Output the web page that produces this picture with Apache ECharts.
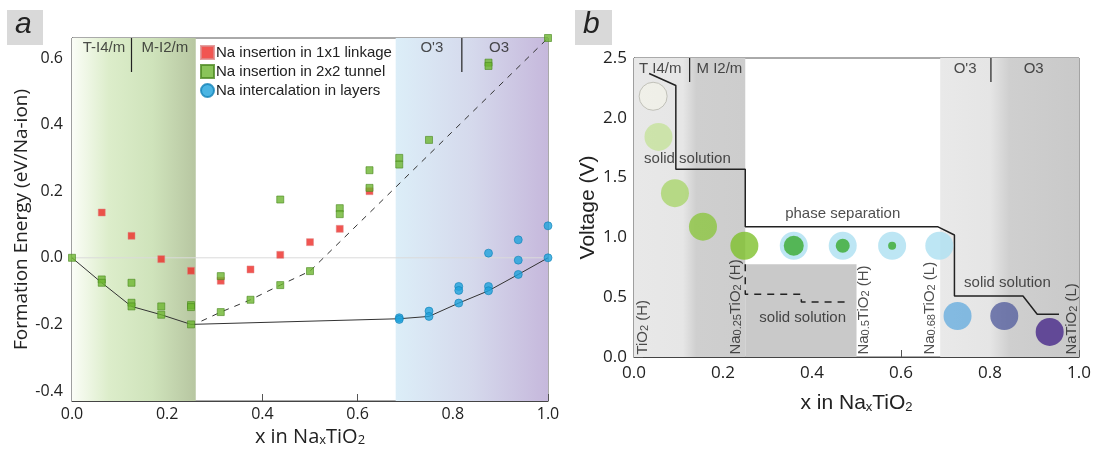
<!DOCTYPE html>
<html>
<head>
<meta charset="utf-8">
<script src="https://cdn.jsdelivr.net/npm/echarts@6/dist/echarts.min.js"></script>
<style>
html,body{margin:0;padding:0;background:#fff;}
#chart{width:1094px;height:453px;}
</style>
</head>
<body>
<div id="chart"></div>
<script>
// ---------- panel a : formation energy ----------
let linkX = [0.0625, 0.125, 0.1875, 0.25, 0.3125, 0.375, 0.4375, 0.5, 0.5625, 0.625];
let linkE = [0.136, 0.066, -0.004, -0.039, -0.069, -0.035, 0.009, 0.047, 0.087, 0.2];

let tunnelX = [0, 0.0625, 0.0625, 0.125, 0.125, 0.125, 0.1875, 0.1875, 0.25, 0.25, 0.25,
  0.3125, 0.3125, 0.375, 0.4375, 0.4375, 0.5, 0.5625, 0.5625, 0.625, 0.625, 0.6875, 0.6875,
  0.75, 0.875, 0.875, 1.0];
let tunnelE = [0, -0.065, -0.075, -0.075, -0.135, -0.146, -0.146, -0.171, -0.142, -0.148, -0.2,
  -0.055, -0.163, -0.126, 0.175, -0.082, -0.04, 0.149, 0.131, 0.263, 0.21, 0.3, 0.28,
  0.354, 0.586, 0.576, 0.66];

let layerX = [0.6875, 0.6875, 0.75, 0.75, 0.8125, 0.8125, 0.8125, 0.875, 0.875, 0.875,
  0.9375, 0.9375, 0.9375, 1.0, 1.0];
let layerE = [-0.18, -0.185, -0.16, -0.176, -0.086, -0.098, -0.136, 0.014, -0.086, -0.099,
  0.054, -0.007, -0.05, 0.096, 0.0];

let hullX = [0, 0.0625, 0.125, 0.1875, 0.25, 0.6875, 0.75, 0.8125, 0.875, 0.9375, 1.0];
let hullE = [0, -0.075, -0.146, -0.171, -0.2, -0.183, -0.176, -0.136, -0.099, -0.05, 0];

let dashX = [0.272, 0.3125, 0.375, 0.4375, 0.5, 1.0];
let dashE = [-0.19, -0.163, -0.126, -0.082, -0.04, 0.66];

let yTicksA = [-0.4, -0.2, 0, 0.2, 0.4, 0.6];
let phaseA = ['T-I4/m', 'M-I2/m', "O'3", 'O3'];
let phaseAX = [0.067, 0.195, 0.756, 0.897];
let splitAX = [0.125, 0.819];
let bandA = [0, 0.26, 0.68, 1.0];

// ---------- panel b : voltage ----------
let voltX = [0.034, 0.094, 0.094, 0.25, 0.25, 0.682, 0.72, 0.72, 0.874, 0.906, 0.955];
let voltV = [2.37, 2.27, 1.57, 1.57, 1.09, 1.09, 1.02, 0.51, 0.51, 0.357, 0.357];
let voltDashX = [0.25, 0.25, 0.376, 0.376, 0.477];
let voltDashV = [0.775, 0.524, 0.524, 0.46, 0.46];

let dotX = [0.043, 0.055, 0.092, 0.155, 0.248, 0.359, 0.469, 0.58, 0.686, 0.727, 0.832, 0.934];
let dotV = [2.18, 1.84, 1.37, 1.09, 0.93, 0.93, 0.93, 0.93, 0.93, 0.343, 0.343, 0.21];
let coreX = [0.359, 0.469, 0.58];
let coreV = [0.93, 0.93, 0.93];

let phaseB = ['T I4/m', 'M I2/m', "O'3", 'O3'];
let phaseBX = [0.059, 0.192, 0.744, 0.898];
let splitBX = [0.125, 0.802];

let notesB = ['solid solution', 'phase separation', 'solid solution', 'solid solution'];
let notesBX = [0.12, 0.469, 0.379, 0.839];
let notesBV = [1.655, 1.196, 0.328, 0.62];

let compB = ['TiO{s|2} (H)', 'Na{s|0.25}TiO{s|2} (H)', 'Na{s|0.5}TiO{s|2} (H)', 'Na{s|0.68}TiO{s|2} (L)', 'NaTiO{s|2} (L)'];
let compBX = [0.021, 0.228, 0.516, 0.664, 0.983];

// styles
let dotColors = ['#f1f1e8', '#c5e29b', '#aad66d', '#8cc540', '#7ec12c', '#ade0f1', '#ade0f1',
  '#ade0f1', '#ade0f1', '#69aede', '#56609f', '#47288a'];
let coreSizes = [20, 14, 8];

const TXT = '#222';
const SANS = 'Liberation Sans';
const OPEN = 'Open Sans';
const subRich = {s: {fontSize: 11, fontFamily: SANS, color: TXT, verticalAlign: 'bottom', lineHeight: 14}};

function pairs(xs, ys) { return xs.map((x, i) => [x, ys[i]]); }

function textSeries(gi, pts, texts, label) {
  return {
    type: 'scatter', xAxisIndex: gi, yAxisIndex: gi, silent: true, symbolSize: 0, z: 6,
    itemStyle: {color: 'transparent'},
    data: pts.map((p, i) => ({value: p, name: texts[i]})),
    label: Object.assign({show: true, position: 'inside', formatter: '{b}',
      color: TXT, fontFamily: SANS, fontSize: 15, rich: subRich}, label)
  };
}

function vline(gi, x, y0, y1) {
  return {type: 'line', xAxisIndex: gi, yAxisIndex: gi, silent: true, symbol: 'none', z: 5,
    lineStyle: {color: '#222', width: 1.2}, data: [[x, y0], [x, y1]]};
}

let chart = echarts.init(document.getElementById('chart'), null, {renderer: 'canvas'});

let series = [
  // bands panel a
  {type: 'line', xAxisIndex: 0, yAxisIndex: 0, data: [], silent: true, z: 0,
    markArea: {silent: true, data: [
      [{xAxis: bandA[0], itemStyle: {color: {type: 'linear', x: 0, y: 0, x2: 1, y2: 0, colorStops: [
        {offset: 0, color: '#fbfdf7'}, {offset: 0.3, color: '#dcedca'}, {offset: 0.65, color: '#cfe3bb'}, {offset: 1, color: '#b7c6a1'}]}}},
       {xAxis: bandA[1]}],
      [{xAxis: bandA[2], itemStyle: {color: {type: 'linear', x: 0, y: 0, x2: 1, y2: 0, colorStops: [
        {offset: 0, color: '#dceef8'}, {offset: 0.5, color: '#d5d9ec'}, {offset: 1, color: '#c6b8dc'}]}}},
       {xAxis: bandA[3]}]
    ]}},
  {type: 'line', xAxisIndex: 0, yAxisIndex: 0, silent: true, symbol: 'none', z: 1,
    lineStyle: {color: '#dadada', width: 1}, data: [[0, 0], [1, 0]]},
  {name: 'hull', type: 'line', xAxisIndex: 0, yAxisIndex: 0, silent: true, symbol: 'none', z: 2,
    lineStyle: {color: '#333', width: 1}, data: pairs(hullX, hullE)},
  {name: 'dash', type: 'line', xAxisIndex: 0, yAxisIndex: 0, silent: true, symbol: 'none', z: 2,
    lineStyle: {color: '#333', width: 1, type: [6, 6]}, data: pairs(dashX, dashE)},
  {name: 'Na insertion in 1x1 linkage', type: 'scatter', xAxisIndex: 0, yAxisIndex: 0, symbol: 'rect',
    symbolSize: 7, z: 3, itemStyle: {color: '#ee2b25', borderColor: '#d88', borderWidth: 0.6}, data: pairs(linkX, linkE)},
  {name: 'Na insertion in 2x2 tunnel', type: 'scatter', xAxisIndex: 0, yAxisIndex: 0, symbol: 'rect',
    symbolSize: 7, z: 4, itemStyle: {color: '#6db52f', borderColor: '#4d8a22', borderWidth: 0.8}, data: pairs(tunnelX, tunnelE)},
  {name: 'Na intercalation in layers', type: 'scatter', xAxisIndex: 0, yAxisIndex: 0, symbol: 'circle',
    symbolSize: 8, z: 4, itemStyle: {color: '#1ea2dc', borderColor: '#1282b8', borderWidth: 0.8}, data: pairs(layerX, layerE)},
  textSeries(0, phaseAX.map(x => [x, 0.63]), phaseA, {}),
  vline(0, splitAX[0], 0.66, 0.558),
  vline(0, splitAX[1], 0.66, 0.558),

  // panel b
  {type: 'line', xAxisIndex: 1, yAxisIndex: 1, data: [], silent: true, z: 0,
    markArea: {silent: true, data: [
      [{xAxis: 0, itemStyle: {color: {type: 'linear', x: 0, y: 0, x2: 1, y2: 0, colorStops: [
        {offset: 0, color: '#e8e8e8'}, {offset: 0.44, color: '#e6e6e6'}, {offset: 0.56, color: '#cfcfcf'}, {offset: 1, color: '#cdcdcd'}]}}},
       {xAxis: 0.25}],
      [{xAxis: 0.25, yAxis: 0, itemStyle: {color: '#c9c9c9'}}, {xAxis: 0.5, yAxis: 0.775}],
      [{xAxis: 0.688, itemStyle: {color: {type: 'linear', x: 0, y: 0, x2: 1, y2: 0, colorStops: [
        {offset: 0, color: '#e9e9e9'}, {offset: 0.36, color: '#e5e5e5'}, {offset: 0.5, color: '#cfcfcf'}, {offset: 1, color: '#c9c9c9'}]}}},
       {xAxis: 1}]
    ]}},
  {type: 'line', xAxisIndex: 1, yAxisIndex: 1, silent: true, symbol: 'none', z: 2,
    lineStyle: {color: '#222', width: 1.5}, data: pairs(voltX, voltV)},
  {type: 'line', xAxisIndex: 1, yAxisIndex: 1, silent: true, symbol: 'none', z: 2,
    lineStyle: {color: '#222', width: 1.5, type: [7, 6]}, data: pairs(voltDashX, voltDashV)},
  {type: 'scatter', xAxisIndex: 1, yAxisIndex: 1, silent: true, symbol: 'circle', symbolSize: 28, z: 3,
    data: dotX.map((x, i) => ({value: [x, dotV[i]], itemStyle: {color: dotColors[i],
      borderColor: i === 0 ? '#b5b5ad' : dotColors[i], borderWidth: i === 0 ? 1 : 0}}))},
  {type: 'scatter', xAxisIndex: 1, yAxisIndex: 1, silent: true, symbol: 'circle', z: 4,
    data: coreX.map((x, i) => ({value: [x, coreV[i]], symbolSize: coreSizes[i]})),
    itemStyle: {color: '#3aaa2e'}},
  textSeries(1, phaseBX.map(x => [x, 2.41]), phaseB, {}),
  vline(1, splitBX[0], 2.5, 2.3),
  vline(1, splitBX[1], 2.5, 2.3),
  textSeries(1, pairs(notesBX, notesBV), notesB, {}),
  textSeries(1, compBX.map(x => [x, 0.02]), compB, {rotate: 90, align: 'left', verticalAlign: 'middle'})
];

function axisX(gi, font, labelMargin, nameGap, nameSize) {
  return {
    type: 'value', gridIndex: gi, min: 0, max: 1, interval: 0.2,
    axisLine: {onZero: false, lineStyle: {color: '#444', width: 1.2}},
    axisTick: {inside: true, length: 7, lineStyle: {color: '#555'}},
    splitLine: {show: false},
    axisLabel: {margin: labelMargin, color: TXT, fontFamily: OPEN, fontSize: font,
      formatter: v => v.toFixed(1)},
    name: 'x in Na{s|x}TiO{s|2}', nameLocation: 'middle', nameGap: nameGap,
    nameTextStyle: {color: TXT, fontFamily: gi === 0 ? OPEN : SANS, fontSize: nameSize,
      rich: {s: {fontSize: 13, fontFamily: gi === 0 ? OPEN : SANS, color: TXT, verticalAlign: 'bottom', lineHeight: 18}}}
  };
}

let option = {
  backgroundColor: '#fff',
  animation: false,
  grid: [
    {left: 72, top: 38, width: 476, height: 363, show: true, borderColor: '#555', borderWidth: 1},
    {left: 634, top: 58, width: 446, height: 299, show: true, borderColor: '#555', borderWidth: 1}
  ],
  legend: {
    left: 195, top: 40, orient: 'vertical', itemGap: 4, itemWidth: 13, itemHeight: 13,
    textStyle: {color: TXT, fontFamily: SANS, fontSize: 15, padding: [0, 0, 0, -3]},
    data: [
      {name: 'Na insertion in 1x1 linkage', icon: 'rect'},
      {name: 'Na insertion in 2x2 tunnel', icon: 'rect'},
      {name: 'Na intercalation in layers', icon: 'circle'}
    ]
  },
  xAxis: [axisX(0, 16, 5, 24, 20), axisX(1, 17, 8, 36, 21)],
  yAxis: [
    {type: 'value', gridIndex: 0, min: -0.43, max: 0.66,
      axisLine: {onZero: false, lineStyle: {color: '#444', width: 1.2}},
      axisTick: {inside: true, length: 12, customValues: yTicksA, lineStyle: {color: '#555'}},
      splitLine: {show: false},
      axisLabel: {margin: 9, color: TXT, fontFamily: OPEN, fontSize: 16, customValues: yTicksA,
        formatter: v => v.toFixed(1)},
      name: 'Formation Energy (eV/Na-ion)', nameLocation: 'middle', nameGap: 38,
      nameTextStyle: {color: TXT, fontFamily: OPEN, fontSize: 19}},
    {type: 'value', gridIndex: 1, min: 0, max: 2.5, interval: 0.5,
      axisLine: {onZero: false, lineStyle: {color: '#444', width: 1.2}},
      axisTick: {inside: true, length: 9, lineStyle: {color: '#555'}},
      splitLine: {show: false},
      axisLabel: {margin: 7, color: TXT, fontFamily: OPEN, fontSize: 17, formatter: v => v.toFixed(1)},
      name: 'Voltage (V)', nameLocation: 'middle', nameGap: 31,
      nameTextStyle: {color: TXT, fontFamily: SANS, fontSize: 21}}
  ],
  graphic: [
    {type: 'rect', left: 7, top: 10, shape: {width: 36, height: 35}, style: {fill: '#d9d9d9'}},
    {type: 'text', left: 15, top: 10, style: {text: 'a', font: 'italic 30px "Liberation Sans"', fill: '#222'}},
    {type: 'rect', left: 575, top: 10, shape: {width: 37, height: 35}, style: {fill: '#d9d9d9'}},
    {type: 'text', left: 583, top: 10, style: {text: 'b', font: 'italic 30px "Liberation Sans"', fill: '#222'}}
  ],
  series: series
};

chart.setOption(option);
</script>
</body>
</html>
